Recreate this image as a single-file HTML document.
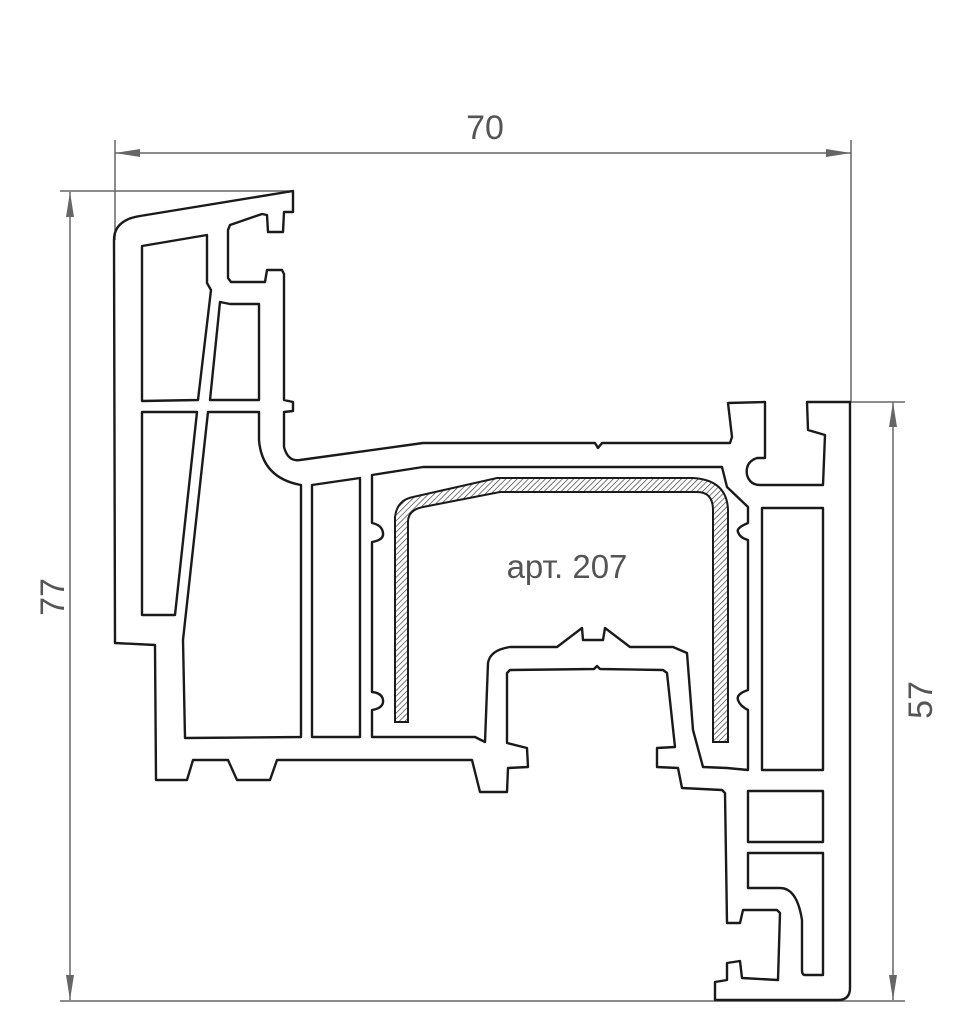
<!DOCTYPE html>
<html><head><meta charset="utf-8"><style>
html,body{margin:0;padding:0;background:#fff;}
svg{display:block;}
</style></head><body>
<svg width="962" height="1024" viewBox="0 0 962 1024" xmlns="http://www.w3.org/2000/svg">
<defs>
<pattern id="h" patternUnits="userSpaceOnUse" width="4" height="4" patternTransform="rotate(45)">
<rect width="4" height="4" fill="#fff"/><line x1="0" y1="0" x2="0" y2="4" stroke="#333" stroke-width="1.3"/>
</pattern>
</defs>
<g stroke="#666" stroke-width="1.5" fill="none">
<line x1="115" y1="140" x2="115" y2="240"/>
<line x1="851" y1="140" x2="851" y2="402"/>
<line x1="115" y1="153" x2="851" y2="153"/>
<line x1="60" y1="191" x2="293" y2="191"/>
<line x1="60" y1="1001" x2="905" y2="1001"/>
<line x1="70" y1="192" x2="70" y2="1000"/>
<line x1="808" y1="402" x2="905" y2="402"/>
<line x1="893" y1="402" x2="893" y2="1000"/>
</g>
<g fill="#666">
<polygon points="115,153 140,149 140,157"/>
<polygon points="851,153 826,149 826,157"/>
<polygon points="70,192 66,217 74,217"/>
<polygon points="70,1000 66,975 74,975"/>
<polygon points="893,402 889,427 897,427"/>
<polygon points="893,1000 889,975 897,975"/>
</g>
<g font-family="Liberation Sans, sans-serif" fill="#555" font-size="34">
<text x="485" y="139" text-anchor="middle">70</text>
<text transform="translate(64,597) rotate(-90)" text-anchor="middle">77</text>
<text transform="translate(932,700) rotate(-90)" text-anchor="middle">57</text>
<text x="567" y="578" text-anchor="middle" font-size="33">арт. 207</text>
</g>
<g stroke="#1a1a1a" stroke-width="2.4" fill="none" stroke-linejoin="round">
<path d="M114,240 Q114,220 140,216 L293,191 L293,212 L284,212 L283,232 L268,232 L267,215 L262,214 L230,225 L228,230 L228,278 L231,282 L265,282 L267,270 L282,270 L284,274 L284,400 L293,402 L293,411 L284,412 L284,447 Q288,462 300,460 L423,443 L595,443 L598,448 L602,443 L730,443 L732,437 L728,403 L765,402 L765,458 L757,458 Q745,462 747,475 Q750,485 760,485 L823,485 L825,435 L808,430 L807,402 L850,402 L850,988 Q850,1000 838,1000 L715,1000 L715,982 L727,980 L727,963 L740,961 L742,978 L778,980 L780,913 L777,910 L743,910 L740,923 L727,923 L725,793 L722,790 L682,788 L678,768 L657,767 L657,748 L675,747 L667,673 L663,670 L600,669 L597,666 L594,669 L510,670 L507,673 L507,743 L527,748 L528,767 L508,768 L507,792 L480,792 L472,760 L277,760 L270,780 L237,780 L228,760 L193,760 L187,780 L156,780 L155,645 L115,643 Z"/>
<path d="M372,475 L423,467 L722,467 L727,487 L748,507 L748,523 Q736,528 738,532 Q740,538 748,540 L748,690 Q736,694 738,700 Q740,706 748,710 L748,770 L727,768 L703,767 L693,730 L687,653 L673,647 L630,647 L605,628 L603,640 L583,640 L582,628 L557,647 L510,647 Q490,650 488,663 L485,742 L475,737 L372,737 L372,710 Q384,708 383,700 Q382,693 372,692 L372,542 Q384,540 383,533 Q382,525 372,523 Z"/>
<path d="M142,246 L207,235 L207,283 L211,290 L198,400 L142,401 Z"/>
<path d="M220,302 L230,304 L259,304 L259,400 L210,400 Z"/>
<path d="M142,412 L197,412 L175,615 L142,615 Z"/>
<path d="M208,412 L259,412 L259,440 Q262,478 301,485 L301,737 L185,738 L183,640 Z"/>
<path d="M312,485 L360,478 L360,737 L312,737 Z"/>
<path d="M762,508 L823,508 L823,770 L762,770 Z"/>
<path d="M748,791 L823,791 L823,842 L748,842 Z"/>
<path d="M748,853 L823,853 L823,975 L805,975 Q802,975 802,970 L802,920 Q797,888 780,888 L748,888 Z"/>
</g>
<path d="M395,722 L395,517 Q397,500 413,497 L497,478 L693,478 Q727,480 728,510 L728,742 L713,742 L713,510 Q713,492 697,492 L500,492 L423,507 Q408,510 408,522 L408,722 Z" fill="url(#h)" stroke="#1a1a1a" stroke-width="2"/>
</svg>
</body></html>
